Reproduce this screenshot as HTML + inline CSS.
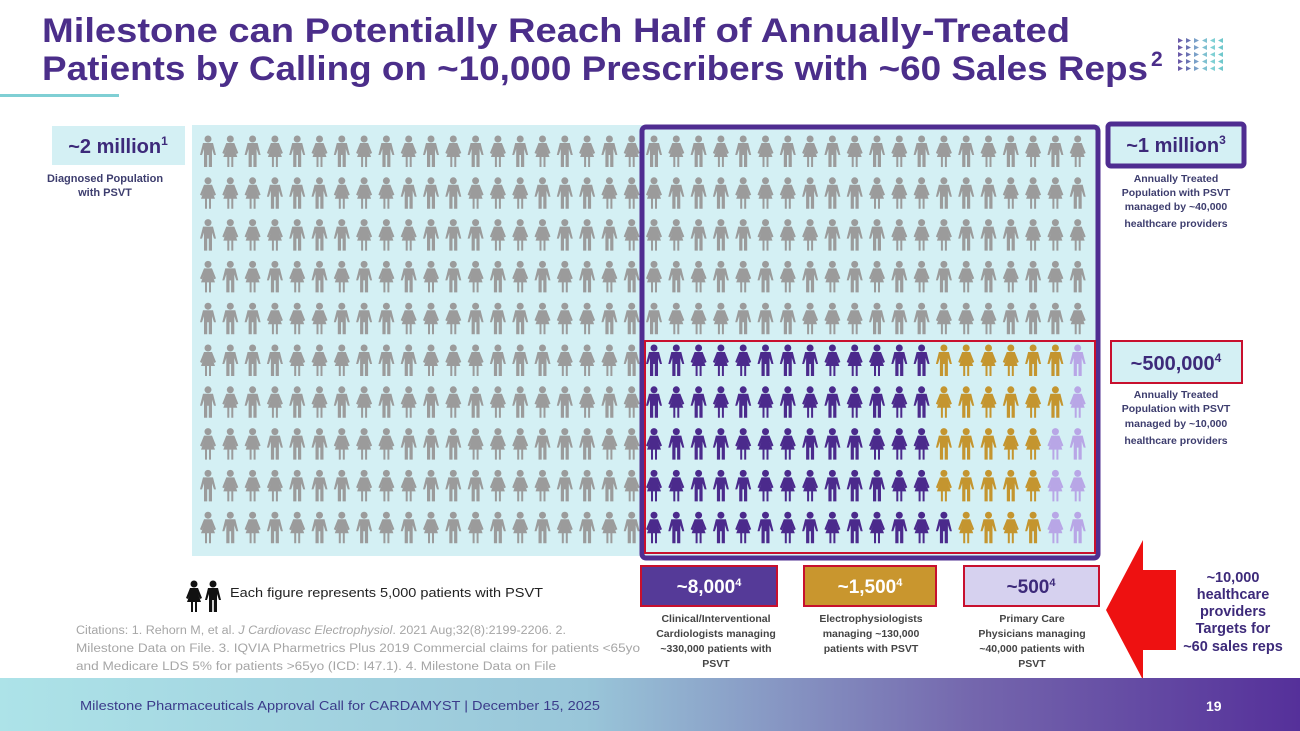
<!DOCTYPE html>
<html><head><meta charset="utf-8">
<style>
html,body{margin:0;padding:0;background:#fff;}
svg{display:block;font-family:"Liberation Sans",Arial,sans-serif;}
</style></head>
<body>
<svg id="chart" width="1300" height="731" viewBox="0 0 1300 731" xmlns="http://www.w3.org/2000/svg">
<defs>
<linearGradient id="foot" x1="0" x2="1" y1="0" y2="0">
<stop offset="0" stop-color="#ade3e8"/><stop offset="0.45" stop-color="#99c6d9"/><stop offset="0.75" stop-color="#7466ad"/><stop offset="1" stop-color="#55309a"/>
</linearGradient>
</defs>
<g fill="#4b2e8a" font-weight="bold" font-size="34">
<text x="42" y="42" textLength="1028" lengthAdjust="spacingAndGlyphs">Milestone can Potentially Reach Half of Annually-Treated</text>
<text x="42" y="80" textLength="1106" lengthAdjust="spacingAndGlyphs">Patients by Calling on ~10,000 Prescribers with ~60 Sales Reps</text>
<text x="1151" y="66" font-size="21">2</text>
</g>
<rect x="0" y="94" width="119" height="3" fill="#7fcfd4"/>
<g id="logo"></g>

<rect x="192" y="125" width="448" height="431" fill="#d4f0f4"/>
<rect x="640" y="125" width="460" height="431" fill="#d4f0f4"/>
<g id="figs"></g>
<rect x="642" y="127" width="456" height="431" rx="4" fill="none" stroke="#4f2d91" stroke-width="5"/>
<rect x="645" y="341" width="450" height="212" fill="none" stroke="#c8102e" stroke-width="2"/>

<g>
<rect x="52" y="126" width="133" height="39" fill="#d4f0f4"/>
<text x="118" y="153" text-anchor="middle" font-size="20" font-weight="bold" fill="#3d2a7a">~2 million<tspan font-size="12" dy="-8">1</tspan></text>
<text x="105" y="182" text-anchor="middle" font-size="11" font-weight="bold" fill="#3d3d6e">Diagnosed Population</text>
<text x="105" y="196" text-anchor="middle" font-size="11" font-weight="bold" fill="#3d3d6e">with PSVT</text>
</g>
<g>
<rect x="1108" y="124" width="136" height="42" rx="3" fill="#d4f0f4" stroke="#4f2d91" stroke-width="5"/>
<text x="1176" y="152" text-anchor="middle" font-size="20" font-weight="bold" fill="#3d2a7a">~1 million<tspan font-size="12" dy="-8">3</tspan></text>
<g font-size="10.5" font-weight="bold" fill="#3d3d6e" text-anchor="middle">
<text x="1176" y="182">Annually Treated</text><text x="1176" y="196">Population with PSVT</text>
<text x="1176" y="210">managed by ~40,000</text><text x="1176" y="227">healthcare providers</text></g>
</g>
<g>
<rect x="1111" y="341" width="131" height="42" fill="#d4f0f4" stroke="#c8102e" stroke-width="2"/>
<text x="1176" y="370" text-anchor="middle" font-size="20" font-weight="bold" fill="#3d2a7a">~500,000<tspan font-size="12" dy="-8">4</tspan></text>
<g font-size="10.5" font-weight="bold" fill="#3d3d6e" text-anchor="middle">
<text x="1176" y="398">Annually Treated</text><text x="1176" y="412">Population with PSVT</text>
<text x="1176" y="427">managed by ~10,000</text><text x="1176" y="444">healthcare providers</text></g>
</g>

<g>
<rect x="641" y="566" width="136" height="40" fill="#553a98" stroke="#c8102e" stroke-width="2"/>
<text x="709" y="593" text-anchor="middle" font-size="19" font-weight="bold" fill="#fff">~8,000<tspan font-size="11" dy="-7">4</tspan></text>
<g font-size="10.5" font-weight="bold" fill="#444" text-anchor="middle">
<text x="716" y="622">Clinical/Interventional</text><text x="716" y="637">Cardiologists managing</text>
<text x="716" y="652">~330,000 patients with</text><text x="716" y="667">PSVT</text></g>
</g>
<g>
<rect x="804" y="566" width="132" height="40" fill="#c9962e" stroke="#c8102e" stroke-width="2"/>
<text x="870" y="593" text-anchor="middle" font-size="19" font-weight="bold" fill="#fff">~1,500<tspan font-size="11" dy="-7">4</tspan></text>
<g font-size="10.5" font-weight="bold" fill="#444" text-anchor="middle">
<text x="871" y="622">Electrophysiologists</text><text x="871" y="637">managing ~130,000</text>
<text x="871" y="652">patients with PSVT</text></g>
</g>
<g>
<rect x="964" y="566" width="135" height="40" fill="#d6d1ef" stroke="#c8102e" stroke-width="2"/>
<text x="1031" y="593" text-anchor="middle" font-size="19" font-weight="bold" fill="#3d2a7a">~500<tspan font-size="11" dy="-7">4</tspan></text>
<g font-size="10.5" font-weight="bold" fill="#444" text-anchor="middle">
<text x="1032" y="622">Primary Care</text><text x="1032" y="637">Physicians managing</text>
<text x="1032" y="652">~40,000 patients with</text><text x="1032" y="667">PSVT</text></g>
</g>
<polygon points="1106,610 1143,540 1143,570 1176,570 1176,650 1143,650 1143,680" fill="#ee1111"/>
<g font-size="14.5" font-weight="bold" fill="#3d2a7a" text-anchor="middle">
<text x="1233" y="582">~10,000</text><text x="1233" y="599">healthcare</text><text x="1233" y="616">providers</text>
<text x="1233" y="633">Targets for</text><text x="1233" y="651">~60 sales reps</text></g>

<g id="legend">
<text x="230" y="597" font-size="13" fill="#222" textLength="313" lengthAdjust="spacingAndGlyphs">Each figure represents 5,000 patients with PSVT</text>
</g>
<g font-size="11.5" fill="#a6a6a6">
<text x="76" y="634" textLength="490" lengthAdjust="spacingAndGlyphs">Citations: 1. Rehorn M, et al. <tspan font-style="italic">J Cardiovasc Electrophysiol</tspan>. 2021 Aug;32(8):2199-2206.  2.</text>
<text x="76" y="652" textLength="564" lengthAdjust="spacingAndGlyphs">Milestone Data on File. 3. IQVIA Pharmetrics Plus 2019 Commercial claims for patients &lt;65yo</text>
<text x="76" y="670" textLength="480" lengthAdjust="spacingAndGlyphs">and Medicare LDS 5% for patients &gt;65yo (ICD: I47.1).  4. Milestone Data on File</text>
</g>
<rect x="0" y="678" width="1300" height="53" fill="url(#foot)"/>
<text x="80" y="710" font-size="13" fill="#3b3b8a" textLength="520" lengthAdjust="spacingAndGlyphs">Milestone Pharmaceuticals Approval Call for CARDAMYST | December 15, 2025</text>
<text x="1206" y="711" font-size="14" font-weight="bold" fill="#fff">19</text>
</svg>
<script>
// Data
const gridCols = 40;
const gridRows = 10;
const purplePerRow = [13, 13, 13, 13, 14];
const goldPerRow = [6, 6, 5, 5, 4];
const lavenderPerRow = [1, 1, 2, 2, 2];

const NS = 'http://www.w3.org/2000/svg';
const xScale = c => 208 + c * 22.3;
const yScale = r => 151 + r * 41.8;

function figure(cx, cy, female, color) {
  const g = document.createElementNS(NS, 'g');
  g.setAttribute('fill', color);
  const head = document.createElementNS(NS, 'circle');
  head.setAttribute('cx', cx); head.setAttribute('cy', cy - 12); head.setAttribute('r', 3.5);
  g.appendChild(head);
  const b = document.createElementNS(NS, 'path');
  let d;
  if (female) {
    d = `M${cx-4},${cy-8} L${cx+4},${cy-8} L${cx+8},${cy+2} L${cx+6},${cy+3} L${cx+4},${cy-2} L${cx+7},${cy+6} L${cx+3},${cy+6} L${cx+3},${cy+16} L${cx+1},${cy+16} L${cx+1},${cy+6} L${cx-1},${cy+6} L${cx-1},${cy+16} L${cx-3},${cy+16} L${cx-3},${cy+6} L${cx-7},${cy+6} L${cx-4},${cy-2} L${cx-6},${cy+3} L${cx-8},${cy+2} Z`;
  } else {
    d = `M${cx-5},${cy-8} L${cx+5},${cy-8} L${cx+8},${cy+4} L${cx+6},${cy+4} L${cx+4},${cy-2} L${cx+4},${cy+16} L${cx+0.8},${cy+16} L${cx+0.8},${cy+4} L${cx-0.8},${cy+4} L${cx-0.8},${cy+16} L${cx-4},${cy+16} L${cx-4},${cy-2} L${cx-6},${cy+4} L${cx-8},${cy+4} Z`;
  }
  b.setAttribute('d', d);
  g.appendChild(b);
  return g;
}

const figs = document.getElementById('figs');
for (let r = 0; r < gridRows; r++) {
  for (let c = 0; c < gridCols; c++) {
    let color = '#9b9b9b';
    let kind = 'gray';
    if (r >= 5 && c >= 20) {
      const k = r - 5, j = c - 20;
      if (j < purplePerRow[k]) { color = '#4b2a8c'; kind = 'purple'; }
      else if (j < purplePerRow[k] + goldPerRow[k]) { color = '#c4952f'; kind = 'gold'; }
      else if (j < purplePerRow[k] + goldPerRow[k] + lavenderPerRow[k]) { color = '#b8a6e6'; kind = 'lavender'; }
    }
    const female = ((r * 7 + c * 3 + (c * r) % 3) % 2) === 1;
    const f = figure(xScale(c), yScale(r), female, color);
    
    
    figs.appendChild(f);
  }
}
const lg = document.getElementById('legend');
const lf = figure(194, 596, true, '#111');


lg.appendChild(lf);
const lm = figure(213, 596, false, '#111');


lg.appendChild(lm);

// logo triangles
const logo = document.getElementById('logo');
const cols = ['#6a5aa8','#6a72b2','#7aa0c8','#7fc0d0','#7fd0d4','#70c8cc'];
for (let i = 0; i < 6; i++) {
  for (let j = 0; j < 5; j++) {
    const x = 1178 + i * 8, y = 38 + j * 7;
    const t = document.createElementNS(NS, 'polygon');
    t.setAttribute('points', i < 3 ? `${x},${y} ${x+5},${y+2.5} ${x},${y+5}` : `${x+5},${y} ${x},${y+2.5} ${x+5},${y+5}`);
    t.setAttribute('fill', cols[i]);
    logo.appendChild(t);
  }
}
</script>
</body></html>
